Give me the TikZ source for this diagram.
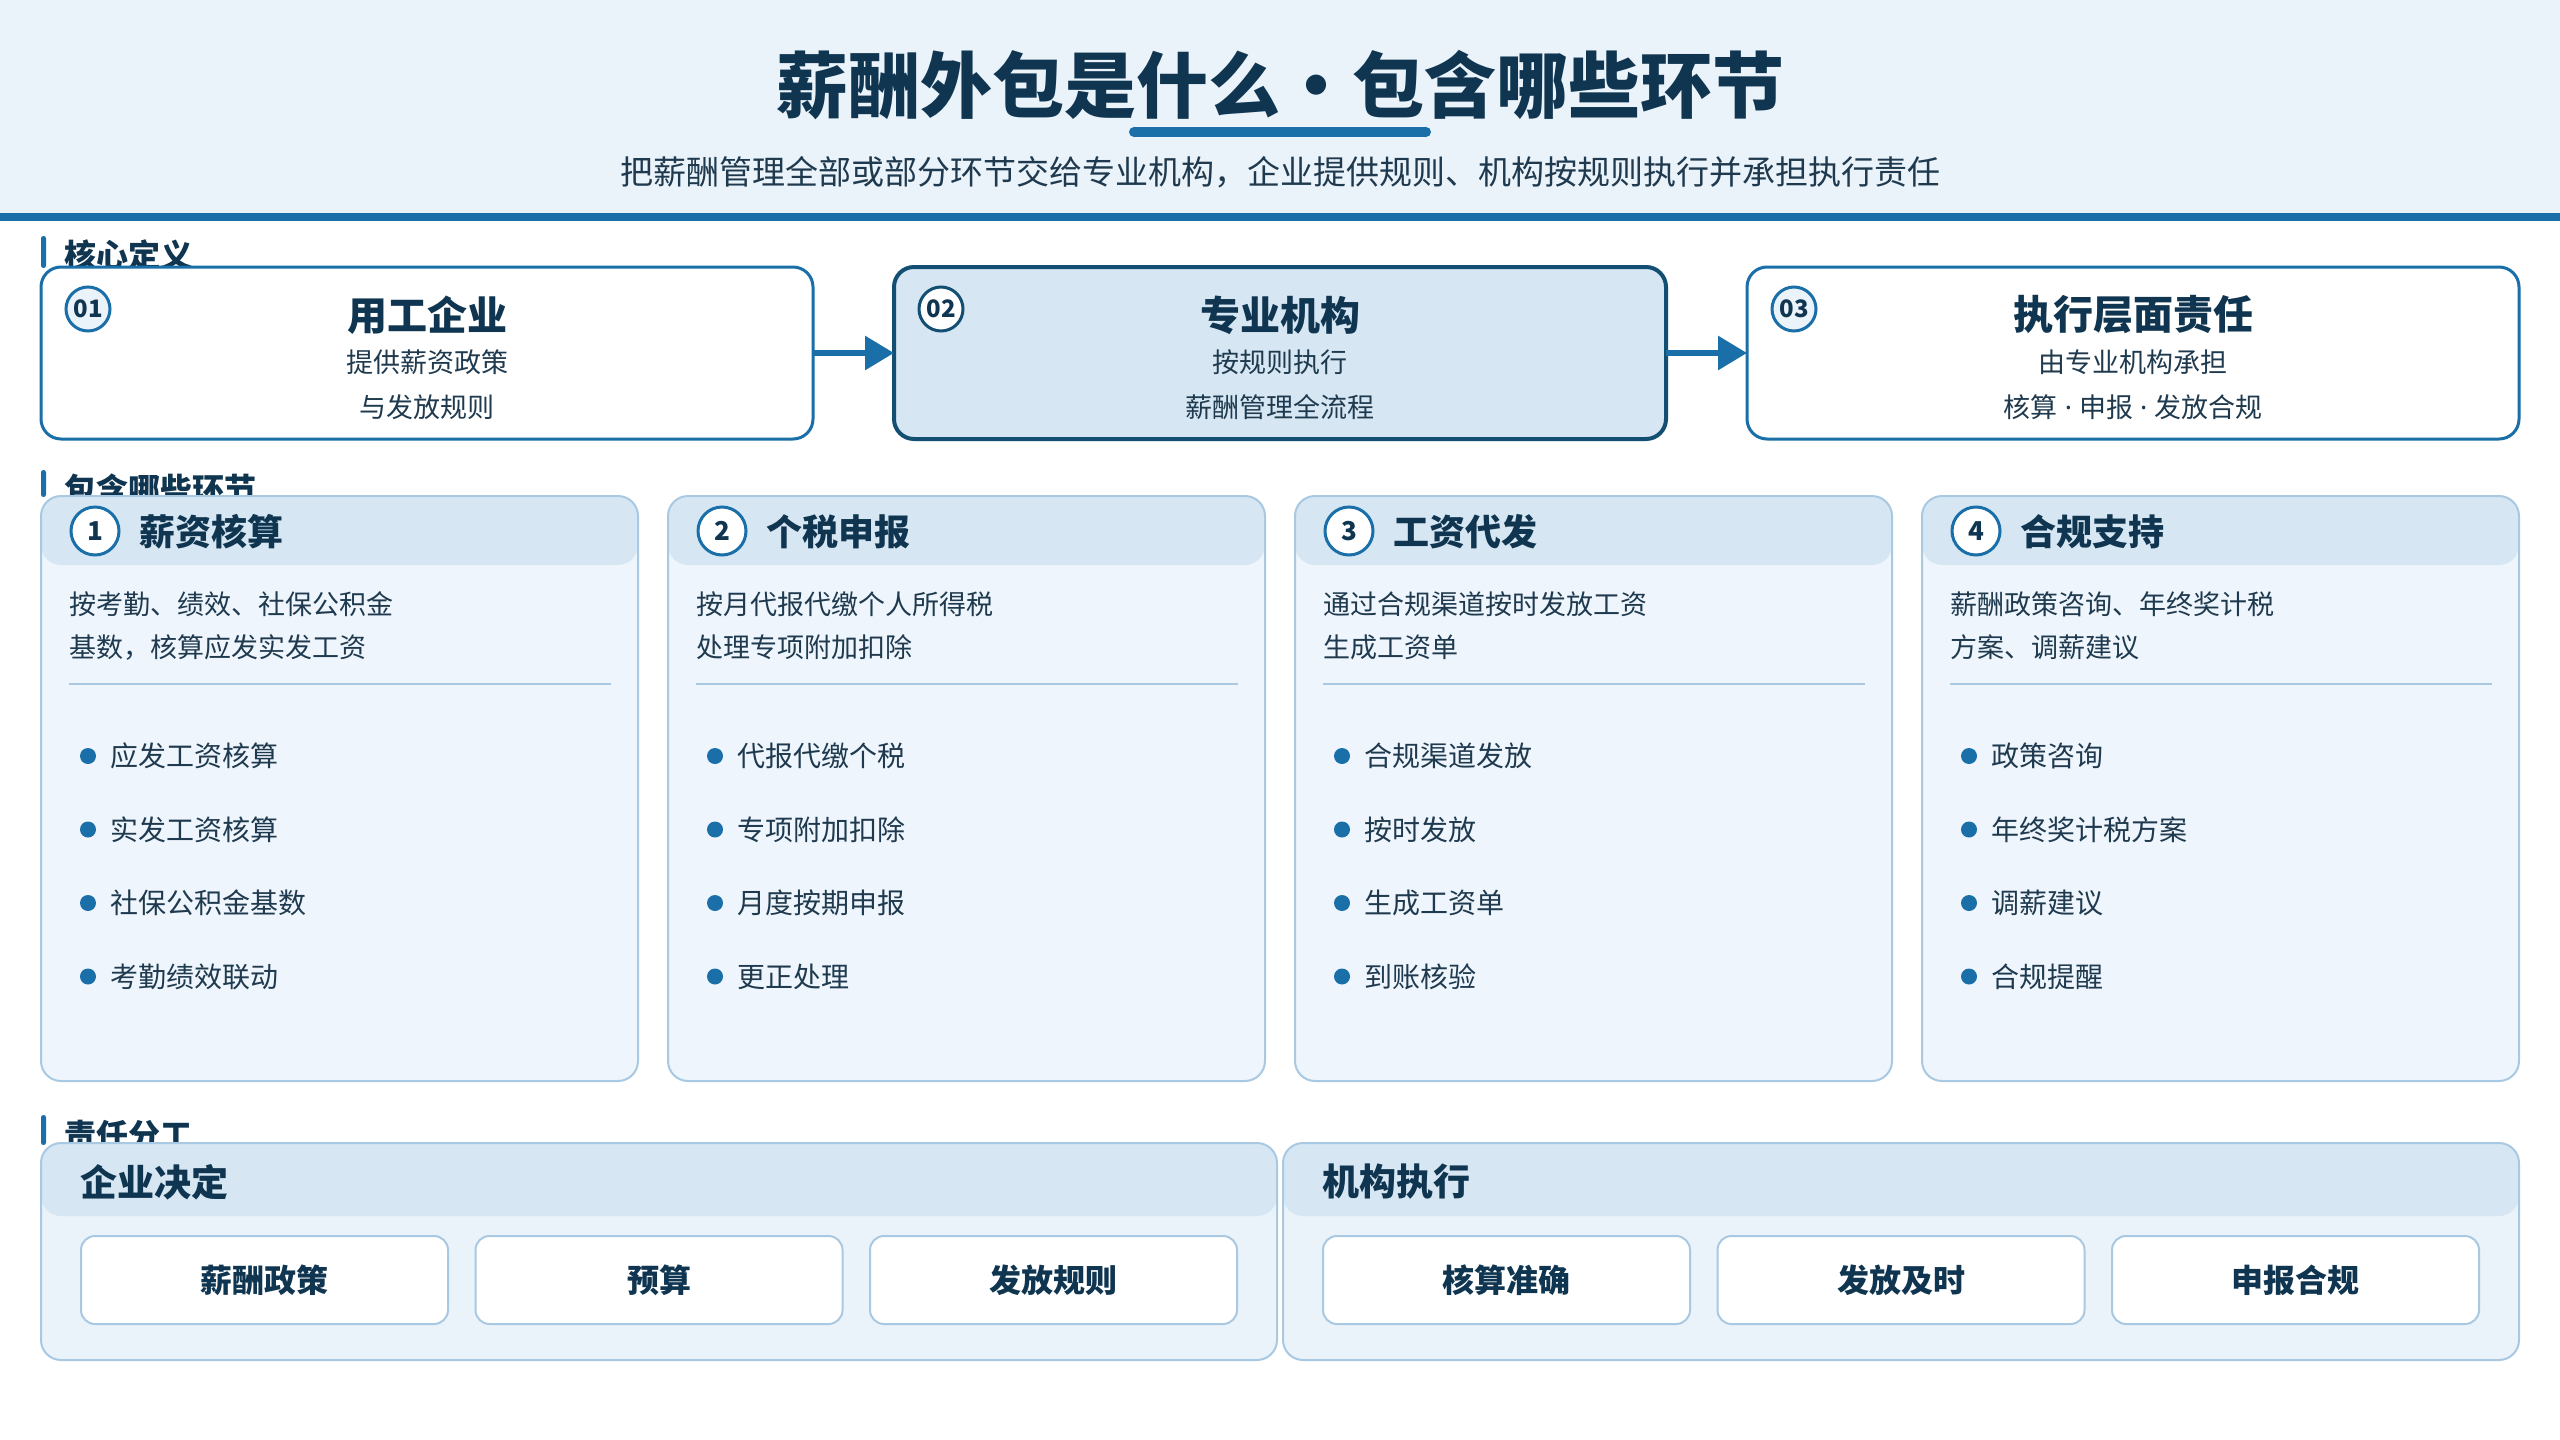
\documentclass[tikz,border=0pt]{standalone}
\usepackage{fontspec}
\setmainfont{Noto Sans CJK SC}
\newfontfamily\latinf{Noto Sans}
\usetikzlibrary{arrows.meta,calc}
\definecolor{hdrbg}{HTML}{EAF2FA}
\definecolor{mainblue}{HTML}{1A6FA8}
\definecolor{darkblue}{HTML}{134F73}
\definecolor{txt}{HTML}{0F3550}
\definecolor{subtxt}{HTML}{1F3A4E}
\definecolor{cardhd}{HTML}{D6E7F3}
\definecolor{cardbody}{HTML}{EEF5FC}
\definecolor{cardline}{HTML}{A9C9E2}
\newcommand\fsz[1]{\fontsize{#1}{#1}\selectfont}
\tikzset{
  defbox/.style={draw=mainblue, line width=1.5pt, fill=white, rounded corners=10pt,
    minimum width=386pt, minimum height=86pt},
  defboxhl/.style={defbox, draw=darkblue, line width=2pt, fill=cardhd},
  numcirc/.style={circle, draw=mainblue, line width=1.5pt, fill=hdrbg, minimum size=22pt,
    font=\fsz{12pt}\bfseries, text=txt},
  numcirchl/.style={numcirc, draw=darkblue, fill=white},
  boxtitle/.style={font=\fsz{20pt}\bfseries, text=txt},
  boxsub/.style={font=\fsz{13.5pt}, text=subtxt},
  card/.style={draw=cardline, line width=1pt, fill=cardbody, rounded corners=10pt,
    minimum width=298.5pt, minimum height=292.5pt,
    path picture={\fill[cardhd] (path picture bounding box.north west) rectangle
      ([yshift=-34.5pt]path picture bounding box.north east);}},
  cardnum/.style={circle, draw=mainblue, line width=1.5pt, fill=white, minimum size=24pt,
    font=\fsz{13pt}\bfseries, text=txt},
  cardtitle/.style={font=\fsz{18pt}\bfseries, text=txt},
  desc/.style={font=\fsz{13.5pt}, text=subtxt},
  item/.style={font=\fsz{14pt}, text=subtxt},
  bigcard/.style={draw=cardline, line width=1pt, fill=hdrbg, rounded corners=10pt,
    minimum width=618pt, minimum height=108.5pt,
    path picture={\fill[cardhd] (path picture bounding box.north west) rectangle
      ([yshift=-36.5pt]path picture bounding box.north east);}},
  bigtitle/.style={font=\fsz{18.5pt}\bfseries, text=txt},
  pill/.style={draw=cardline, line width=1pt, fill=white, rounded corners=7pt,
    minimum width=183.5pt, minimum height=44pt, font=\fsz{16pt}\bfseries, text=txt},
  seclabel/.style={font=\fsz{16pt}\bfseries, text=txt, anchor=west},
  flow/.style={draw=mainblue, line width=3pt, -{Triangle[length=14.5pt,width=16.5pt]}},
  every node/.style={inner sep=0pt, outer sep=0pt}
}
\newcommand\stagecard[6]{%
  \node[card] (#1) at (#2,788.5) {};
  \node[cardnum] (#1-n) at ($(#1.north west)+(54,35)$) {#3};
  \node[cardtitle, anchor=west] (#1-t) at ($(#1.north west)+(98,36)$) {#4};
  \node[desc, anchor=west] (#1-d1) at ($(#1.north west)+(28,108)$) {#5};
  \node[desc, anchor=west] (#1-d2) at ($(#1.north west)+(28,151)$) {#6};
  \draw[cardline, line width=1pt] ($(#1.north west)+(28,188)$) -- ($(#1.north east)+(-27,188)$);
}
\newcommand\cardlist[5]{%
  \foreach \t [count=\i from 0] in {#2,#3,#4,#5} {
    \fill[mainblue] ($(#1.north west)+(47,260+73.5*\i)$) circle (4pt);
    \node[item, anchor=west] (#1-i\i) at ($(#1.north west)+(69,260+73.5*\i)$) {\t};
  }%
}
\begin{document}
\begin{tikzpicture}[x=0.5pt,y=-0.5pt]
\useasboundingbox (0,0) rectangle (2560,1440);
\fill[white] (0,0) rectangle (2560,1440);
% header
\fill[hdrbg] (0,0) rectangle (2560,213);
\fill[mainblue] (0,213) rectangle (2560,221);
\node[font=\fsz{36pt}\bfseries, text=txt] (title) at (1280,85) {薪酬外包是什么•包含哪些环节};
\draw[mainblue, line width=5pt, line cap=round] (1134,132) -- (1426,132);
\node[font=\fsz{16.5pt}, text=subtxt] (subtitle) at (1280,172) {把薪酬管理全部或部分环节交给专业机构，企业提供规则、机构按规则执行并承担执行责任};

% section 1
\fill[mainblue, rounded corners=1.2pt] (41,236) rectangle (46,268);
\node[seclabel] (lab1) at (64,255) {核心定义};
\node[defbox] (b1) at (427,353) {};
\node[defboxhl] (b2) at (1280,353) {};
\node[defbox] (b3) at (2133,353) {};
\node[numcirc] (b1-n) at ($(b1.north west)+(47,42)$) {01};
\node[numcirchl] (b2-n) at ($(b2.north west)+(47,42)$) {02};
\node[numcirc] (b3-n) at ($(b3.north west)+(47,42)$) {03};
\node[boxtitle] (b1-t) at ($(b1.north)+(0,48)$) {用工企业};
\node[boxsub] (b1-s1) at ($(b1.north)+(0,95)$) {提供薪资政策};
\node[boxsub] (b1-s2) at ($(b1.north)+(0,140)$) {与发放规则};
\node[boxtitle] (b2-t) at ($(b2.north)+(0,48)$) {专业机构};
\node[boxsub] (b2-s1) at ($(b2.north)+(0,95)$) {按规则执行};
\node[boxsub] (b2-s2) at ($(b2.north)+(0,140)$) {薪酬管理全流程};
\node[boxtitle] (b3-t) at ($(b3.north)+(0,48)$) {执行层面责任};
\node[boxsub] (b3-s1) at ($(b3.north)+(0,95)$) {由专业机构承担};
\node[boxsub] (b3-s2) at ($(b3.north)+(0,140)$) {核算{\latinf{} · }申报{\latinf{} · }发放合规};
\draw[flow] (b1.east) -- (b2.west);
\draw[flow] (b2.east) -- (b3.west);

% section 2
\fill[mainblue, rounded corners=1.2pt] (41,470) rectangle (46,497);
\node[seclabel] (lab2) at (64,489) {包含哪些环节};
\stagecard{k1}{339.5}{1}{薪资核算}{按考勤、绩效、社保公积金}{基数，核算应发实发工资}
\cardlist{k1}{应发工资核算}{实发工资核算}{社保公积金基数}{考勤绩效联动}
\stagecard{k2}{966.5}{2}{个税申报}{按月代报代缴个人所得税}{处理专项附加扣除}
\cardlist{k2}{代报代缴个税}{专项附加扣除}{月度按期申报}{更正处理}
\stagecard{k3}{1593.5}{3}{工资代发}{通过合规渠道按时发放工资}{生成工资单}
\cardlist{k3}{合规渠道发放}{按时发放}{生成工资单}{到账核验}
\stagecard{k4}{2220.5}{4}{合规支持}{薪酬政策咨询、年终奖计税}{方案、调薪建议}
\cardlist{k4}{政策咨询}{年终奖计税方案}{调薪建议}{合规提醒}

% section 3
\fill[mainblue, rounded corners=1.2pt] (41,1115) rectangle (46,1145);
\node[seclabel] (lab3) at (64,1135) {责任分工};
\node[bigcard] (e) at (659,1251.5) {};
\node[bigcard] (o) at (1901,1251.5) {};
\node[bigtitle, anchor=west] (e-t) at ($(e.north west)+(39,39)$) {企业决定};
\node[bigtitle, anchor=west] (o-t) at ($(o.north west)+(39,39)$) {机构执行};
\node[pill] (e1) at ($(e.north)+(-394.5,137)$) {薪酬政策};
\node[pill] (e2) at ($(e.north)+(0,137)$) {预算};
\node[pill] (e3) at ($(e.north)+(394.5,137)$) {发放规则};
\node[pill] (o1) at ($(o.north)+(-394.5,137)$) {核算准确};
\node[pill] (o2) at ($(o.north)+(0,137)$) {发放及时};
\node[pill] (o3) at ($(o.north)+(394.5,137)$) {申报合规};
\end{tikzpicture}
\end{document}
